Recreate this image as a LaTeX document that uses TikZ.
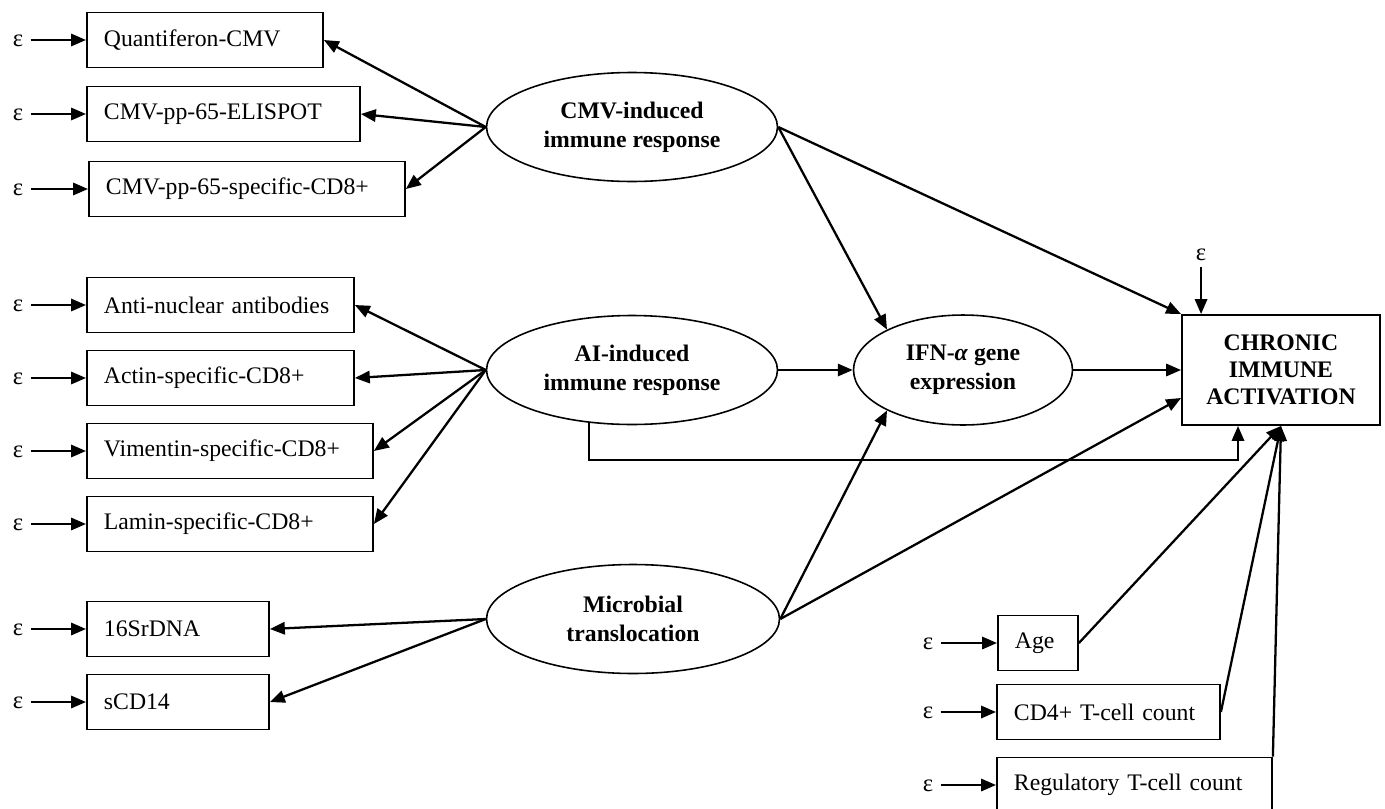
\documentclass[tikz,border=0pt]{standalone}
\usepackage{fontspec}
\setmainfont{Liberation Serif}
\usetikzlibrary{arrows.meta, shapes.geometric, calc}

\begin{document}
\begin{tikzpicture}[x=0.02cm, y=-0.02cm,
    obs/.style={draw, line width=1.1pt, anchor=west, minimum height=1.1cm, inner xsep=0.34cm, text width=#1, align=left, font=\fontsize{13.5}{16}\selectfont},
    lat/.style={draw, ellipse, line width=0.9pt, minimum width=#1, minimum height=2.18cm, inner sep=0pt, align=center, font=\fontsize{13.5}{16.5}\selectfont\bfseries},
    err/.style={inner sep=4pt, text height=1.5ex, text depth=0pt, font=\fontsize{14}{16}\selectfont},
    arr/.style={line width=1.3pt, -{Triangle[length=8.5pt, width=7pt]}}]
  \useasboundingbox (0,0) rectangle (1385,808);

  % Latent factors
  \node[lat=5.82cm] (cmv) at (632,127) {CMV-induced\\immune response};
  \node[lat=5.82cm] (ai)  at (632,370) {AI-induced\\immune response};
  \node[lat=5.86cm] (mt)  at (633,619) {Microbial\\translocation};
  \node[lat=4.38cm, minimum height=2.2cm] (ifn) at (963,370) {IFN-\textit{α} gene\\expression};

  % Outcome
  \node[draw, line width=1.1pt, minimum width=3.96cm, minimum height=2.2cm, align=center,
        font=\fontsize{13.5}{15.5}\selectfont\bfseries] (cia) at (1281,370) {CHRONIC\\IMMUNE\\ACTIVATION};

  % Indicators (left)
  \node[obs=4.04cm] (qf)      at (86,40)  {Quantiferon-CMV};
  \node[obs=4.78cm] (elispot) at (86,114) {CMV-pp-65-ELISPOT};
  \node[obs=5.64cm] (cmvcd)   at (88,189) {CMV-pp-65-specific-CD8+};
  \node[obs=4.66cm] (ana)     at (86,305) {Anti-nuclear antibodies};
  \node[obs=4.66cm] (actin)   at (86,378) {Actin-specific-CD8+};
  \node[obs=5.04cm] (vim)     at (86,451) {Vimentin-specific-CD8+};
  \node[obs=5.04cm] (lamin)   at (86,524) {Lamin-specific-CD8+};
  \node[obs=2.96cm] (rdna)    at (86,629) {16SrDNA};
  \node[obs=2.96cm] (scd)     at (86,702) {sCD14};

  % Covariates (bottom right)
  \node[obs=0.92cm] (age)   at (997,643) {Age};
  \node[obs=3.78cm] (cdfour) at (996,712) {CD4+ T-cell count};
  \node[obs=4.82cm] (treg)  at (996,785) {Regulatory T-cell count};

  % Error terms
  \coordinate (lx) at (18,0);
  \coordinate (rx) at (928,0);
  \foreach \b in {qf,elispot,cmvcd,ana,actin,vim,lamin,rdna,scd}{
    \node[err] (e\b) at (lx |- \b.west) {ε};
    \draw[arr] (e\b) -- (\b);
  }
  \foreach \b in {age,cdfour,treg}{
    \node[err] (e\b) at (rx |- \b.west) {ε};
    \draw[arr] (e\b) -- (\b);
  }
  \coordinate (top) at ($(cia.north west)!0.1!(cia.north east)$);
  \node[err] (ecia) at ($(top)+(0,-60)$) {ε};
  \draw[arr] (ecia.south) -- (top);

  % Loadings
  \foreach \b in {qf,elispot,cmvcd}  \draw[arr] (cmv.west) -- (\b.east);
  \foreach \b in {ana,actin,vim,lamin} \draw[arr] (ai.west) -- (\b.east);
  \foreach \b in {rdna,scd}          \draw[arr] (mt.west) -- (\b.east);

  % Structural paths
  \draw[arr] (cmv.east) -- (ifn.152);
  \draw[arr] (ai.east) -- (ifn.west);
  \draw[arr] (mt.east) -- (ifn.-152);
  \draw[arr] (cmv.east) -- (cia.north west);
  \draw[arr] (ifn.east) -- (cia.west);
  \draw[arr] (mt.east) -- ($(cia.west)!0.5!(cia.south west)$);
  \coordinate (elbow) at (1238,460);
  \draw[arr] (ai.-129) |- (elbow) -- (elbow |- cia.south);
  \draw[arr] (age.east) -- (cia.south);
  \draw[arr] (cdfour.east) -- (cia.south);
  \draw[arr] (treg.north east) -- (cia.south);
\end{tikzpicture}
\end{document}
